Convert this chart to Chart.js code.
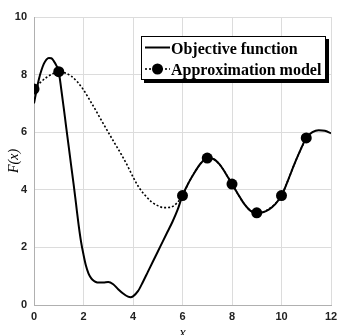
<!DOCTYPE html>
<html><head><meta charset="utf-8">
<script src="https://cdn.jsdelivr.net/npm/chart.js@4"></script>
<style>html,body{margin:0;padding:0;background:#fff;overflow:hidden;}</style>
</head><body>
<canvas id="c" width="337" height="335"></canvas>
<script>
// ---- data ----
const objX = [0,0.1,0.2,0.3,0.4,0.5,0.6,0.7,0.8,0.9,1.0,1.1,1.2,1.3,1.4,1.5,1.6,1.7,1.8,1.9,2.0,2.1,2.2,2.3,2.4,2.5,2.6,2.8,3.0,3.2,3.4,3.6,3.8,3.9,4.0,4.2,4.4,4.6,4.8,5.0,5.2,5.4,5.6,5.8,6.0,6.25,6.5,6.75,7.0,7.25,7.5,7.75,8.0,8.25,8.5,8.75,9.0,9.25,9.5,9.75,10.0,10.25,10.5,10.75,11.0,11.25,11.5,11.75,12.0];
const objY = [7.0,7.45,7.85,8.15,8.38,8.52,8.58,8.57,8.47,8.32,8.1,7.5,6.85,6.18,5.52,4.85,4.2,3.5,2.8,2.2,1.75,1.36,1.1,0.94,0.85,0.8,0.78,0.78,0.8,0.72,0.55,0.4,0.29,0.27,0.3,0.48,0.8,1.15,1.5,1.85,2.2,2.55,2.9,3.3,3.8,4.25,4.62,4.93,5.1,5.07,4.88,4.56,4.2,3.84,3.5,3.27,3.2,3.22,3.32,3.5,3.8,4.3,4.85,5.35,5.8,6.0,6.07,6.05,5.96];
const apX = [0,0.25,0.5,0.75,1,1.25,1.5,1.75,2,2.25,2.5,2.75,3,3.25,3.5,3.75,4,4.25,4.5,4.75,5,5.25,5.5,5.75,6,6.25,6.5,6.75,7,7.25,7.5,7.75,8,8.25,8.5,8.75,9,9.25,9.5,9.75,10,10.25,10.5,10.75,11];
const apY = [7.5,7.72,7.9,8.03,8.1,8.06,7.95,7.75,7.47,7.12,6.75,6.37,6.0,5.63,5.27,4.88,4.45,4.07,3.8,3.58,3.45,3.38,3.39,3.52,3.8,4.25,4.62,4.93,5.1,5.07,4.88,4.56,4.2,3.84,3.5,3.27,3.2,3.22,3.34,3.52,3.8,4.3,4.85,5.35,5.8];
const sampleX = [0,1,6,7,8,9,10,11];
const sampleY = [7.5,8.1,3.8,5.1,4.2,3.2,3.8,5.8];
const xTicks = [0,2,4,6,8,10,12];
const yTicks = [0,2,4,6,8,10];
const seriesLabels = ['Objective function','Approximation model'];
const xTitle = 'x';
const yTitle = 'F(x)';

const pts = (xs, ys) => xs.map((x,i)=>({x:x, y:ys[i]}));

const legendPlugin = {
  id:'boxLegend',
  afterDraw(chart){
    const ctx = chart.ctx;
    const bx=141, by=36, bw=185, bh=44;
    ctx.save();
    ctx.fillStyle='#000';
    ctx.fillRect(bx+3, by+3, bw, bh);
    ctx.fillStyle='#fff';
    ctx.fillRect(bx, by, bw, bh);
    ctx.strokeStyle='#000'; ctx.lineWidth=1;
    ctx.strokeRect(bx+0.5, by+0.5, bw-1, bh-1);
    const ds0 = chart.data.datasets[0], ds1 = chart.data.datasets[1], ds2 = chart.data.datasets[2];
    ctx.strokeStyle=ds0.borderColor; ctx.lineWidth=ds0.borderWidth;
    ctx.beginPath(); ctx.moveTo(145,47.5); ctx.lineTo(170,47.5); ctx.stroke();
    ctx.setLineDash(ds1.borderDash); ctx.lineWidth=ds1.borderWidth;
    ctx.beginPath(); ctx.moveTo(145,69); ctx.lineTo(170,69); ctx.stroke();
    ctx.setLineDash([]);
    ctx.fillStyle=ds2.pointBackgroundColor;
    ctx.beginPath(); ctx.arc(157.5,69,ds2.pointRadius,0,Math.PI*2); ctx.fill();
    ctx.fillStyle='#000';
    ctx.font='bold 16px "Liberation Serif", "Times New Roman", serif';
    ctx.textBaseline='alphabetic'; ctx.textAlign='left';
    ctx.fillText(ds0.label, 171, 53.5);
    ctx.fillText(ds1.label, 171, 74.5);
    ctx.restore();
  }
};

const tickFont = {family:'"Liberation Sans", Arial, sans-serif', size:11, weight:'bold'};

new Chart(document.getElementById('c'), {
  type:'line',
  data:{datasets:[
    {label:seriesLabels[0], data:pts(objX,objY), borderColor:'#000', borderWidth:2, pointRadius:0, cubicInterpolationMode:'monotone', fill:false},
    {label:seriesLabels[1], data:pts(apX,apY), borderColor:'#000', borderWidth:1.6, borderDash:[2,2], pointRadius:0, cubicInterpolationMode:'monotone', fill:false},
    {label:seriesLabels[1]+' samples', data:pts(sampleX,sampleY), showLine:false, pointRadius:5.5, pointBackgroundColor:'#000', pointBorderColor:'#000', pointBorderWidth:0}
  ]},
  options:{
    responsive:false, animation:false,
    layout:{padding:{top:17,right:6,left:0,bottom:0}},
    plugins:{legend:{display:false}, tooltip:{enabled:false}},
    scales:{
      x:{type:'linear', min:0, max:12,
        afterBuildTicks(s){ s.ticks = xTicks.map(v=>({value:v})); },
        ticks:{font:tickFont, color:'#222', padding:5, maxRotation:0},
        grid:{color:'#dcdcdc', drawTicks:false},
        border:{color:'#b0b0b0'},
        title:{display:true, text:xTitle, color:'#000', font:{family:'"Liberation Serif", serif', size:14, style:'italic'}, padding:{top:0,bottom:-7}},
        afterFit(s){ s.height=30; s.paddingLeft=0; s.paddingRight=0; }
      },
      y:{type:'linear', min:0, max:10,
        afterBuildTicks(s){ s.ticks = yTicks.map(v=>({value:v})); },
        ticks:{font:tickFont, color:'#222', padding:7},
        grid:{color:'#dcdcdc', drawTicks:false},
        border:{color:'#b0b0b0'},
        title:{display:true, text:yTitle, color:'#000', font:{family:'"Liberation Serif", serif', size:14, style:'italic'}, padding:{top:6,bottom:0}},
        afterFit(s){ s.width=34; }
      }
    }
  },
  plugins:[legendPlugin]
});
</script>
</body></html>
